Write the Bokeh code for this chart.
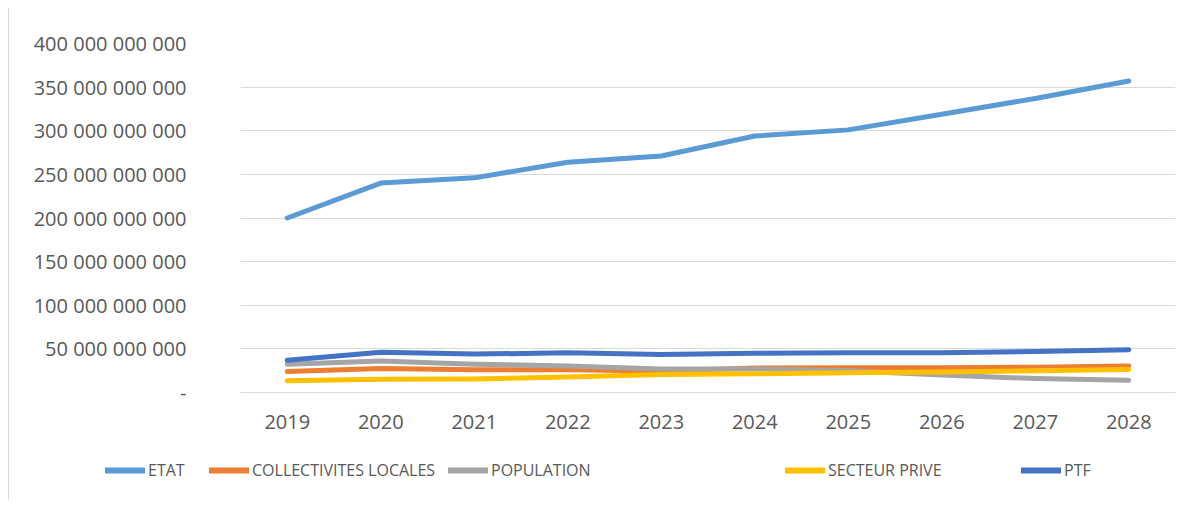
from bokeh.plotting import figure
from bokeh.models import FixedTicker, Legend, LegendItem, ColumnDataSource
from bokeh.embed import file_html
from bokeh.resources import INLINE

years = ["2019", "2020", "2021", "2022", "2023", "2024", "2025", "2026", "2027", "2028"]
etat = [200e9, 240e9, 246e9, 264e9, 271e9, 294e9, 301e9, 319e9, 337e9, 357e9]
collectivites = [24e9, 27.5e9, 26e9, 26e9, 24.7e9, 28e9, 28.5e9, 28.5e9, 29e9, 30.5e9]
population = [32.5e9, 36e9, 32.5e9, 30.5e9, 27e9, 27e9, 25e9, 20e9, 16e9, 14e9]
secteur_prive = [13.6e9, 15.2e9, 15.5e9, 17.8e9, 20.5e9, 21.5e9, 22.5e9, 23.5e9, 25e9, 26.5e9]
ptf = [37e9, 46e9, 44e9, 45.5e9, 43.6e9, 45e9, 45.5e9, 45.5e9, 47e9, 49e9]

series_names = ["ETAT", "COLLECTIVITES LOCALES", "POPULATION", "SECTEUR PRIVE", "PTF"]
colors = ["#5B9BD5", "#ED7D31", "#A5A5A5", "#FFC000", "#4472C4"]

y_ticks = [0, 50e9, 100e9, 150e9, 200e9, 250e9, 300e9, 350e9, 400e9]
y_tick_labels = ["-", "50 000 000 000", "100 000 000 000", "150 000 000 000",
                 "200 000 000 000", "250 000 000 000", "300 000 000 000",
                 "350 000 000 000", "400 000 000 000"]

FONT = "Open Sans"
TXT = "#595959"
COLS = ["etat", "coll", "pop", "sp", "ptf"]

src = ColumnDataSource(dict(year=years, etat=etat, coll=collectivites, pop=population,
                            sp=secteur_prive, ptf=ptf))

# ---------------- main chart ----------------
p = figure(width=1174, height=426, x_range=years, y_range=(0, 400e9),
           output_backend="svg", toolbar_location=None,
           min_border_left=231, min_border_right=8, min_border_top=35,
           min_border_bottom=42)
p.outline_line_color = None
p.styles = {"margin-left": "8px", "margin-top": "8px", "border-left": "1px solid #D9D9D9"}

for col, c in zip(COLS, colors):
    p.line("year", col, source=src, line_color=c, line_width=5, line_cap="round",
           line_join="round")

p.yaxis.ticker = FixedTicker(ticks=y_ticks)
p.yaxis.major_label_overrides = {t: l for t, l in zip(y_ticks, y_tick_labels)}
p.yaxis.axis_line_color = None
p.yaxis.major_tick_line_color = None
p.yaxis.minor_tick_line_color = None
p.yaxis.major_label_standoff = 48
p.yaxis.major_label_text_font = FONT
p.yaxis.major_label_text_font_size = "20px"
p.yaxis.major_label_text_color = TXT

p.xaxis.axis_line_color = "#D9D9D9"
p.xaxis.major_tick_line_color = None
p.xaxis.minor_tick_line_color = None
p.xaxis.major_label_standoff = 16
p.xaxis.major_label_text_font = FONT
p.xaxis.major_label_text_font_size = "20px"
p.xaxis.major_label_text_color = TXT

p.xgrid.grid_line_color = None
p.ygrid.grid_line_color = "#D9D9D9"
p.ygrid.grid_line_width = 1

# ---------------- legend strip (separate root, no frame alignment) ----------------
lf = figure(width=1174, height=66, x_range=years, y_range=(1e15, 2e15),
            output_backend="svg", toolbar_location=None,
            x_axis_type=None, y_axis_type=None,
            min_border_left=0, min_border_right=0, min_border_top=0, min_border_bottom=0)
lf.outline_line_color = None
lf.xgrid.grid_line_color = None
lf.ygrid.grid_line_color = None
lf.styles = {"margin-left": "8px", "border-left": "1px solid #D9D9D9"}

legend_x = [96, 200, 439, 776, 1012]
for name, col, c, lx in zip(series_names, COLS, colors, legend_x):
    r = lf.line("year", col, source=src, line_color=c, line_width=6, line_cap="round")
    lg = Legend(items=[LegendItem(label=name, renderers=[r])], location=(lx, 19),
                orientation="horizontal", padding=0, margin=0, border_line_color=None,
                background_fill_alpha=0, glyph_width=40, glyph_height=20,
                label_standoff=3, label_text_font=FONT, label_text_font_size="16px",
                label_text_color=TXT)
    lf.add_layout(lg, "center")

open("out.html", "w").write(file_html([p, lf], INLINE))
